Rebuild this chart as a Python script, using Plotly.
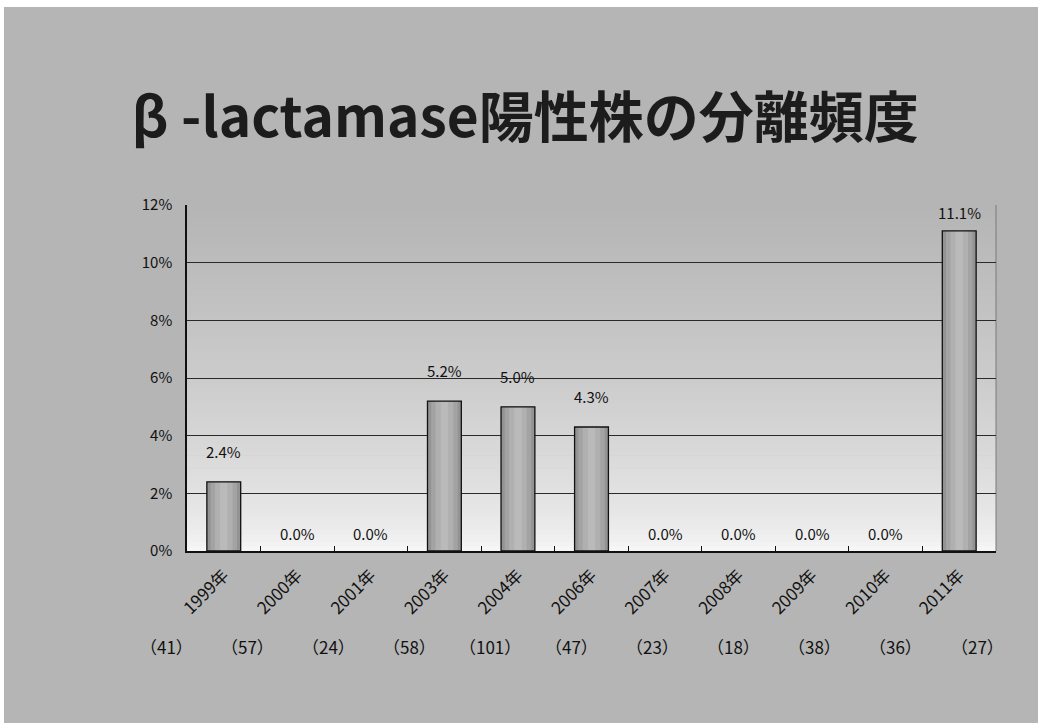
import plotly.graph_objects as go

# Isolation data: beta-lactamase positive rate (%) and number of strains per year
years = ["1999年", "2000年", "2001年", "2003年", "2004年", "2006年",
         "2007年", "2008年", "2009年", "2010年", "2011年"]
positive_rate = [2.4, 0.0, 0.0, 5.2, 5.0, 4.3, 0.0, 0.0, 0.0, 0.0, 11.1]
strain_counts = [41, 57, 24, 58, 101, 47, 23, 18, 38, 36, 27]
y_ticks = [0, 2, 4, 6, 8, 10, 12]
y_tick_labels = [f"{v}%" for v in y_ticks]

W, H = 1038, 723
L, R, T, B = 187, 42, 205, 172
plot_w = W - L - R
plot_h = H - T - B
FONT = "Noto Sans CJK JP"


def px_x(p):
    return (p - L) / plot_w


def px_y(p):
    return (H - B - p) / plot_h


# Only non-zero rates get a visible bar
bar_rate = [v if v > 0 else None for v in positive_rate]

fig = go.Figure()

# Cylinder-like shading: wide darker fill, then lighter narrower cores, outline on top
for width, color in [(0.46, "#939393"), (0.36, "#a3a3a3"), (0.24, "#b0b0b0"), (0.1, "#bababa")]:
    fig.add_trace(go.Bar(
        x=years, y=bar_rate, width=width,
        marker=dict(color=color, line=dict(width=0)),
        hoverinfo="skip", showlegend=False,
    ))
fig.add_trace(go.Bar(
    x=years, y=bar_rate, width=0.46,
    marker=dict(color="rgba(0,0,0,0)", line=dict(color="#111111", width=1.3)),
    showlegend=False,
))

shapes = []
# Grey page background with a thin white scan border at top and left
shapes.append(dict(type="rect", xref="paper", yref="paper", layer="below",
                   x0=px_x(4), x1=px_x(W), y0=px_y(H), y1=px_y(7),
                   fillcolor="#b5b5b5", line=dict(width=0)))
# Plot area vertical gradient (grey at top fading to white at bottom)
n_bands = 80
for i in range(n_bands):
    t0 = i / n_bands
    t1 = (i + 1) / n_bands
    tm = (t0 + t1) / 2
    v = int(round(249 - 68 * tm ** 0.6))
    shapes.append(dict(type="rect", xref="x domain", yref="y domain", layer="below",
                       x0=0, x1=1, y0=t0, y1=t1 + 0.002,
                       fillcolor=f"rgb({v},{v},{v})", line=dict(width=0)))
# Plot area right border
shapes.append(dict(type="line", xref="x domain", yref="y domain", layer="below",
                   x0=1, x1=1, y0=0, y1=1, line=dict(color="#7a7a7a", width=1)))

annotations = []
# Value labels above the bars
for yr, v in zip(years, positive_rate):
    label_y = min(v + 1.05, 11.75) if v > 0 else 0.62
    annotations.append(dict(x=yr, y=label_y, xref="x", yref="y", text=f"{v:.1f}%",
                            showarrow=False, yanchor="middle",
                            font=dict(family=FONT, size=15, color="#111111")))

# Strain counts row beneath the year labels
first_px, last_px = 166, 977
step = (last_px - first_px) / (len(strain_counts) - 1)
for i, n in enumerate(strain_counts):
    annotations.append(dict(x=px_x(first_px + i * step), y=px_y(646), xref="paper", yref="paper",
                            text=f"（{n}）", showarrow=False, xanchor="center", yanchor="middle",
                            font=dict(family=FONT, size=17, color="#111111")))

fig.update_layout(
    width=W, height=H, autosize=False,
    margin=dict(l=L, r=R, t=T, b=B, pad=0),
    paper_bgcolor="#ffffff",
    plot_bgcolor="rgba(0,0,0,0)",
    barmode="overlay",
    title=dict(text="<b>β -lactamase陽性株の分離頻度</b>",
               x=0.506, xref="container", xanchor="center",
               y=1 - 118 / H, yref="container", yanchor="middle",
               font=dict(family=FONT, size=55, color="#1c1c1c")),
    shapes=shapes,
    annotations=annotations,
    xaxis=dict(type="category", categoryorder="array", categoryarray=years,
               tickangle=-45, tickfont=dict(family=FONT, size=17, color="#111111"),
               ticks="inside", tickson="boundaries", ticklen=5, tickcolor="#111111",
               showline=True, linecolor="#111111", linewidth=1.5,
               showgrid=False, zeroline=False, ticklabelstandoff=6),
    yaxis=dict(range=[0, 12], tickmode="array", tickvals=y_ticks, ticktext=y_tick_labels,
               tickfont=dict(family=FONT, size=15, color="#111111"),
               showgrid=True, gridcolor="#2a2a2a", gridwidth=1,
               showline=True, linecolor="#111111", linewidth=1.5,
               zeroline=False, ticks="", ticklabelstandoff=10),
    font=dict(family=FONT),
)

fig.write_html("out.html")
